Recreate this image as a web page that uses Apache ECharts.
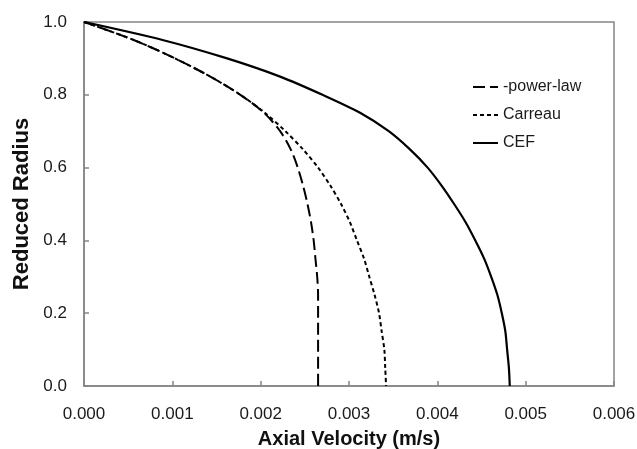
<!DOCTYPE html>
<html>
<head>
<meta charset="utf-8">
<script src="https://cdn.jsdelivr.net/npm/echarts@6/dist/echarts.min.js"></script>
<style>
  html, body { margin: 0; padding: 0; background: #fff; }
  #chart { width: 637px; height: 449px; }
</style>
</head>
<body>
<div id="chart"></div>
<script>
/* Velocity profiles - reduced radius vs axial velocity */

const reducedRadius = [1.0, 0.95, 0.9, 0.85, 0.8, 0.75, 0.7, 0.65, 0.6, 0.55, 0.5,
  0.45, 0.4, 0.35, 0.3, 0.25, 0.2, 0.15, 0.1, 0.05, 0.0];

const powerLawVel = [0, 0.00057, 0.00103, 0.00143, 0.00177, 0.00204, 0.00222, 0.00234, 0.00242,
  0.00248, 0.00253, 0.00257, 0.00260, 0.00262, 0.00264, 0.00265, 0.00265, 0.00265, 0.00265,
  0.00265, 0.00265];

const carreauVel = [0, 0.00057, 0.00103, 0.00143, 0.00177, 0.00205, 0.00228, 0.00248, 0.00265,
  0.00279, 0.00291, 0.00301, 0.00309, 0.00317, 0.00323, 0.00329, 0.00334, 0.00337, 0.00340,
  0.00341, 0.00342];

const cefVel = [0, 0.00090, 0.00162, 0.00222, 0.00270, 0.00313, 0.00345, 0.00369, 0.00389,
  0.00405, 0.00419, 0.00432, 0.00443, 0.00453, 0.00461, 0.00468, 0.00473, 0.00477, 0.00479,
  0.00481, 0.00482];

const xTicks = ['0.000', '0.001', '0.002', '0.003', '0.004', '0.005', '0.006'];
const yTicks = ['0.0', '0.2', '0.4', '0.6', '0.8', '1.0'];

const chart = echarts.init(document.getElementById('chart'), null, { renderer: 'canvas' });

const axisGray = '#858585';
const textColor = '#1a1a1a';

function pairs(vel) {
  return vel.map((v, i) => [v, reducedRadius[i]]);
}

function lineSeries(name, vel, type, width) {
  return {
    name,
    type: 'line',
    showSymbol: false,
    symbol: 'none',
    smooth: 0.3,
    lineStyle: { color: '#000', width, type },
    itemStyle: { color: '#000' },
    data: pairs(vel)
  };
}

const option = {
  animation: false,
  grid: {
    left: 84, right: 23, top: 22, bottom: 63,
    outerBoundsMode: 'none',
    show: true, borderColor: axisGray, borderWidth: 1.5
  },
  legend: {
    orient: 'vertical',
    left: 467,
    top: 74,
    itemWidth: 25,
    itemHeight: 14,
    itemGap: 12,
    itemStyle: { opacity: 0 },
    textStyle: { fontFamily: 'Liberation Sans', fontSize: 16, color: textColor },
    data: ['-power-law', 'Carreau', 'CEF']
  },
  xAxis: {
    type: 'value',
    min: 0, max: 0.006, interval: 0.001,
    name: 'Axial Velocity (m/s)',
    nameLocation: 'middle',
    nameGap: 43,
    nameTextStyle: { fontFamily: 'Liberation Sans', fontWeight: 'bold', fontSize: 20, color: '#111' },
    axisLine: { lineStyle: { color: axisGray, width: 1.5 } },
    axisTick: { inside: true, length: 5, lineStyle: { color: axisGray, width: 1.5 } },
    axisLabel: {
      margin: 20,
      fontFamily: 'Liberation Sans', fontSize: 17, color: textColor,
      formatter: v => xTicks[Math.round(v / 0.001)]
    },
    splitLine: { show: false }
  },
  yAxis: {
    type: 'value',
    min: 0, max: 1, interval: 0.2,
    name: 'Reduced Radius',
    nameLocation: 'middle',
    nameRotate: 90,
    nameGap: 50,
    nameTextStyle: { fontFamily: 'Liberation Sans', fontWeight: 'bold', fontSize: 22, color: '#111' },
    axisLine: { lineStyle: { color: axisGray, width: 1.5 } },
    axisTick: { inside: true, length: 5, lineStyle: { color: axisGray, width: 1.5 } },
    axisLabel: {
      margin: 17,
      fontFamily: 'Liberation Sans', fontSize: 17, color: textColor,
      formatter: v => yTicks[Math.round(v / 0.2)]
    },
    splitLine: { show: false }
  },
  series: [
    lineSeries('-power-law', powerLawVel, [12, 5], 2),
    lineSeries('Carreau', carreauVel, [4, 3], 2),
    lineSeries('CEF', cefVel, 'solid', 2.2)
  ]
};

chart.setOption(option);
</script>
</body>
</html>
